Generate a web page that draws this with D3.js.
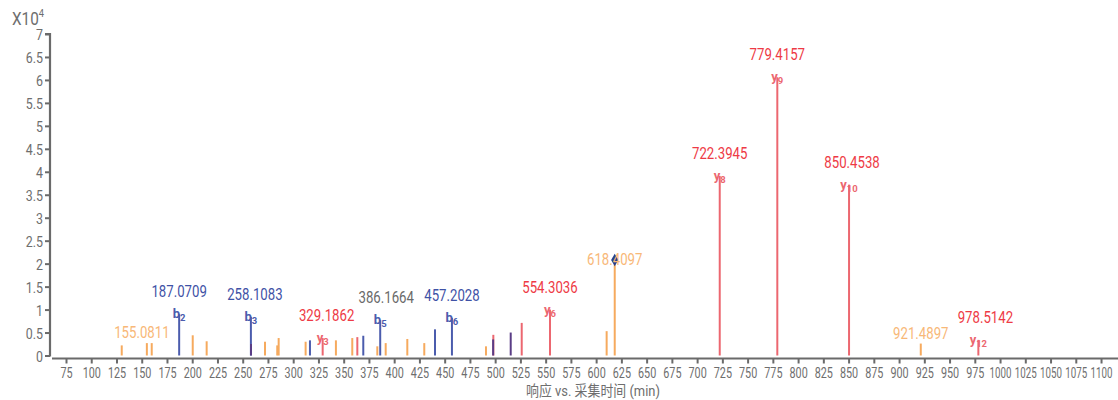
<!DOCTYPE html>
<html>
<head>
<meta charset="utf-8">
<script src="https://cdn.jsdelivr.net/npm/d3@7"></script>
<style>
  html, body { margin: 0; padding: 0; background: #fff; }
  svg { display: block; }
  .cond { font-family: "Roboto", "Noto Sans CJK SC", sans-serif; }
</style>
</head>
<body>
<svg id="chart" width="1118" height="400"></svg>
<script>
// ---- Spectrum data (intensity in units of 10^4 counts) ----
// unannotated fragment peaks
const otherMz   = [130.2, 159.9, 200.5, 214.3, 272.1, 284.2, 285.6, 312.3, 342.3, 358.5, 383.3, 391.6, 413.0, 429.8, 490.9, 610.4];
const otherInt  = [0.22, 0.27, 0.44, 0.31, 0.30, 0.22, 0.38, 0.30, 0.33, 0.38, 0.20, 0.27, 0.36, 0.27, 0.20, 0.53];
const otherKind = ["o","o","o","o","o","o","o","o","o","o","o","o","o","o","o","o"];

// smaller b/y-series peaks without labels
const minorMz   = [316.6, 369.4, 440.4, 363.5, 498.2, 526.3, 258.2, 498.0, 515.4];
const minorInt  = [0.33, 0.43, 0.57, 0.40, 0.45, 0.71, 0.25, 0.35, 0.50];
const minorKind = ["b","b","b","y","y","y","p","p","p"];

// labelled peaks
const labelMz    = [155.0811, 187.0709, 258.1083, 329.1862, 386.1664, 457.2028, 554.3036, 618.4097, 722.3945, 779.4157, 850.4538, 921.4897, 978.5142];
const labelInt   = [0.27, 0.90, 0.84, 0.38, 0.77, 0.82, 1.00, 2.08, 3.91, 6.06, 3.72, 0.26, 0.34];
const labelKind  = ["o", "b", "b", "y", "b", "b", "y", "o", "y", "y", "y", "o", "y"];
const labelIon   = ["", "2", "3", "3", "5", "6", "6", "", "8", "9", "10", "", "12"];
const labelText  = ["155.0811", "187.0709", "258.1083", "329.1862", "386.1664", "457.2028", "554.3036", "618.4097", "722.3945", "779.4157", "850.4538", "921.4897", "978.5142"];
const precursorMz = [618.4097];

// axis ticks
const xTicks = [75,100,125,150,175,200,225,250,275,300,325,350,375,400,425,450,475,500,525,550,575,600,625,650,675,700,725,750,775,800,825,850,875,900,925,950,975,1000,1025,1050,1075,1100];
const yTicks = [0,0.5,1,1.5,2,2.5,3,3.5,4,4.5,5,5.5,6,6.5,7];

const xTitle = "响应 vs. 采集时间 (min)";

// ---- styles ----
const lineColor = { o: "#f6aa5e", b: "#4b5cad", y: "#ec6770", p: "#5a3d86" };
const textColor = { o: "#f8b878", b: "#3f52a6", y: "#ee3a45" };
const axisColor = "#6a6a6a";
const tickText  = "#6e6e6e";
// small horizontal nudges for crowded labels
const labelNudge = { "155.0811": -5, "258.1083": 4, "329.1862": 4, "386.1664": 6, "850.4538": 3, "978.5142": 7 };
const grayLabels = ["386.1664"];

const svg = d3.select("#chart");

const x = d3.scaleLinear().domain([61.14, 1116.8]).range([52, 1118]);
const y = d3.scaleLinear().domain([0, 7]).range([355.5, 34]);

// squeeze a text selection horizontally to mimic a condensed face
function condense(sel, k) {
  sel.each(function () {
    const w = this.getComputedTextLength();
    d3.select(this).attr("textLength", w * k).attr("lengthAdjust", "spacingAndGlyphs");
  });
}

// ---- axes ----
const yAxis = d3.axisLeft(y).tickValues(yTicks).tickSize(5).tickPadding(2)
  .tickFormat(d => d3.format("~g")(d));
const gy = svg.append("g").attr("transform", "translate(50,0)").call(yAxis);
gy.select(".domain").attr("stroke", axisColor).attr("stroke-width", 2.2)
  .attr("d", `M-5,${y(7)}H0V${y(0)+1}`);
gy.selectAll(".tick line").attr("stroke", axisColor).attr("stroke-width", 2);
gy.selectAll(".tick text").attr("class", "cond").attr("fill", tickText)
  .attr("font-size", 15.5).attr("dy", "0.36em").call(condense, 0.8);

const xAxis = d3.axisBottom(x).tickValues(xTicks).tickSize(5).tickPadding(4)
  .tickFormat(d3.format("d"));
const gx = svg.append("g").attr("transform", "translate(0,358.5)").call(xAxis);
gx.select(".domain").attr("stroke", axisColor).attr("stroke-width", 2.2)
  .attr("d", `M52,0H1118`);
gx.selectAll(".tick line").attr("stroke", axisColor).attr("stroke-width", 2);
// tick labels are narrowed with a scale transform about their anchor;
// four-digit values get a little more squeeze so neighbours keep a gap
gx.selectAll(".tick text").attr("class", "cond").attr("fill", tickText)
  .attr("font-size", 15)
  .attr("transform", d => String(d).length > 3 ? "scale(0.65,1)" : "scale(0.72,1)");

// axis titles
const yt = svg.append("text").attr("class", "cond")
  .attr("transform", "translate(12,25) scale(0.85,1)")
  .attr("fill", tickText).attr("font-size", 18).text("X10");
yt.append("tspan").attr("font-size", 11).attr("dy", -8).text("4");

svg.append("text").attr("class", "cond").attr("x", 593).attr("y", 396)
  .attr("text-anchor", "middle").attr("fill", tickText).attr("font-size", 15)
  .text(xTitle).call(condense, 0.86);

// ---- peaks ----
const plot = svg.append("g");
function sticks(mz, inten, kind) {
  plot.selectAll(null).data(d3.range(mz.length)).join("line")
    .attr("x1", i => x(mz[i])).attr("x2", i => x(mz[i]))
    .attr("y1", y(0)).attr("y2", i => y(inten[i]))
    .attr("stroke", i => lineColor[kind[i]]).attr("stroke-width", 2);
}
sticks(otherMz, otherInt, otherKind);
sticks(labelMz, labelInt, labelKind);
sticks(minorMz, minorInt, minorKind);

// ion annotations (b/y with subscript index)
const ionIdx = d3.range(labelMz.length).filter(i => labelIon[i] !== "");
const ion = plot.selectAll(null).data(ionIdx).join("text")
  .attr("class", "cond")
  .attr("x", i => x(labelMz[i]))
  .attr("y", i => y(labelInt[i]) + 4)
  .attr("text-anchor", "middle")
  .attr("font-size", 13).attr("font-weight", "bold")
  .attr("fill", i => lineColor[labelKind[i]]);
ion.append("tspan").text(i => labelKind[i]);
ion.append("tspan").attr("font-size", 9.5).attr("dy", 3).text(i => labelIon[i]);

// precursor marker
plot.selectAll(null).data(precursorMz).join("path")
  .attr("d", d3.symbol(d3.symbolDiamond, 45))
  .attr("transform", d => `translate(${x(d)},${y(labelInt[labelMz.indexOf(d)])})`)
  .attr("fill", "#26408f");

// m/z labels
plot.selectAll(null).data(d3.range(labelMz.length)).join("text")
  .attr("class", "cond")
  .attr("x", i => x(labelMz[i]) + (labelNudge[labelText[i]] || 0))
  .attr("y", i => {
    const top = y(labelInt[i]);
    if (precursorMz.includes(labelMz[i])) return top + 5;
    return labelIon[i] !== "" ? top - 17 : top - 5;
  })
  .attr("text-anchor", "middle").attr("font-size", 16.5)
  .attr("fill", i => grayLabels.includes(labelText[i]) ? "#6a6a6a" : textColor[labelKind[i]])
  .text(i => labelText[i])
  .call(condense, 0.8);
</script>
</body>
</html>
